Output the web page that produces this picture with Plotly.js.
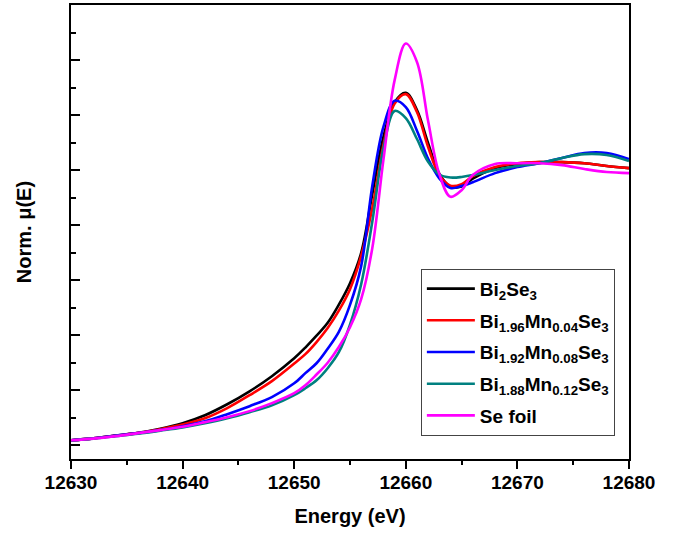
<!DOCTYPE html>
<html>
<head>
<meta charset="utf-8">
<script src="https://cdn.plot.ly/plotly-3.0.1.min.js"></script>
<style>html,body{margin:0;padding:0;background:#fff;}#chart{width:674px;height:534px;}</style>
</head>
<body>
<div id="chart"></div>
<script>
const energy = [12630, 12632, 12634, 12636, 12638, 12640, 12642, 12644, 12646, 12648, 12650, 12651, 12652, 12653, 12654, 12655, 12656, 12657, 12658, 12659, 12660, 12661, 12662, 12663, 12664, 12665, 12666, 12668, 12670, 12672, 12674, 12676, 12678, 12680];

const bi2se3 = [0.018, 0.025, 0.035, 0.045, 0.060, 0.080, 0.109, 0.149, 0.196, 0.251, 0.316, 0.355, 0.398, 0.445, 0.511, 0.589, 0.699, 0.913, 1.122, 1.247, 1.281, 1.218, 1.098, 0.987, 0.940, 0.940, 0.969, 1.007, 1.022, 1.029, 1.029, 1.025, 1.015, 1.007];
const mn004  = [0.018, 0.025, 0.035, 0.044, 0.058, 0.075, 0.098, 0.135, 0.182, 0.233, 0.297, 0.331, 0.375, 0.426, 0.489, 0.567, 0.688, 0.862, 1.092, 1.242, 1.276, 1.211, 1.084, 0.982, 0.943, 0.949, 0.978, 1.011, 1.025, 1.029, 1.029, 1.025, 1.015, 1.007];
const mn008  = [0.018, 0.025, 0.035, 0.044, 0.055, 0.069, 0.087, 0.113, 0.142, 0.175, 0.225, 0.262, 0.298, 0.351, 0.412, 0.510, 0.651, 0.943, 1.158, 1.252, 1.229, 1.143, 1.041, 0.970, 0.935, 0.942, 0.956, 0.989, 1.011, 1.025, 1.044, 1.062, 1.062, 1.040];
const mn012  = [0.018, 0.024, 0.033, 0.042, 0.053, 0.065, 0.080, 0.098, 0.120, 0.145, 0.182, 0.207, 0.236, 0.280, 0.338, 0.438, 0.585, 0.813, 1.080, 1.215, 1.189, 1.113, 1.030, 0.984, 0.973, 0.975, 0.982, 1.000, 1.015, 1.025, 1.044, 1.058, 1.055, 1.033];
const seFoil = [0.018, 0.024, 0.033, 0.044, 0.055, 0.067, 0.084, 0.102, 0.124, 0.153, 0.189, 0.218, 0.257, 0.300, 0.357, 0.429, 0.531, 0.717, 1.039, 1.327, 1.460, 1.393, 1.178, 0.986, 0.903, 0.927, 0.982, 1.022, 1.025, 1.025, 1.018, 1.004, 0.993, 0.989];

const names = ['Bi<sub>2</sub>Se<sub>3</sub>', 'Bi<sub>1.96</sub>Mn<sub>0.04</sub>Se<sub>3</sub>', 'Bi<sub>1.92</sub>Mn<sub>0.08</sub>Se<sub>3</sub>', 'Bi<sub>1.88</sub>Mn<sub>0.12</sub>Se<sub>3</sub>', 'Se foil'];
const colors = ['#000000', '#ff0000', '#0000ff', '#008080', '#ff00ff'];
const series = [bi2se3, mn004, mn008, mn012, seFoil];

const traces = series.map((s, i) => ({
  x: energy, y: s, type: 'scatter', mode: 'lines', name: names[i],
  legendgroup: 'g' + i,
  line: {color: colors[i], width: 2.6, shape: 'spline', smoothing: 1}
}));

const font = 'Arial, "Liberation Sans", sans-serif';
const layout = {
  width: 674, height: 534,
  margin: {l: 71, r: 45, t: 5, b: 75},
  paper_bgcolor: '#fff', plot_bgcolor: '#fff',
  font: {family: font, color: '#000'},
  showlegend: true,
  legend: {
    x: 0.627, y: 0.419, xanchor: 'left', yanchor: 'top',
    bordercolor: '#444', borderwidth: 1, bgcolor: '#fff',
    font: {family: font, size: 19, color: '#000', weight: 'bold'},
    tracegroupgap: 4, itemwidth: 48
  },
  xaxis: {
    range: [12630, 12680], dtick: 10, tick0: 12630, tickformat: 'd',
    showline: true, linewidth: 2, linecolor: '#000', mirror: true,
    ticks: 'outside', ticklen: 8, tickwidth: 2, tickcolor: '#000',
    ticklabelstandoff: -3,
    minor: {dtick: 5, ticks: 'outside', ticklen: 4, tickwidth: 2, tickcolor: '#000'},
    showgrid: false, zeroline: false,
    tickfont: {family: font, size: 19, weight: 'bold'},
    title: {text: 'Energy (eV)', font: {family: font, size: 20, weight: 'bold'}, standoff: 17}
  },
  yaxis: {
    range: [-0.05, 1.6], dtick: 0.2, tick0: 0,
    showline: true, linewidth: 2, linecolor: '#000', mirror: true,
    ticks: 'inside', ticklen: 9, tickwidth: 2, tickcolor: '#000',
    minor: {dtick: 0.1, ticks: 'inside', ticklen: 5, tickwidth: 2, tickcolor: '#000'},
    showticklabels: false, showgrid: false, zeroline: false,
    title: {text: 'Norm. μ(E)', font: {family: font, size: 20, weight: 'bold'}, standoff: 32}
  }
};

Plotly.newPlot('chart', traces, layout, {displayModeBar: false, staticPlot: true});
</script>
</body>
</html>
